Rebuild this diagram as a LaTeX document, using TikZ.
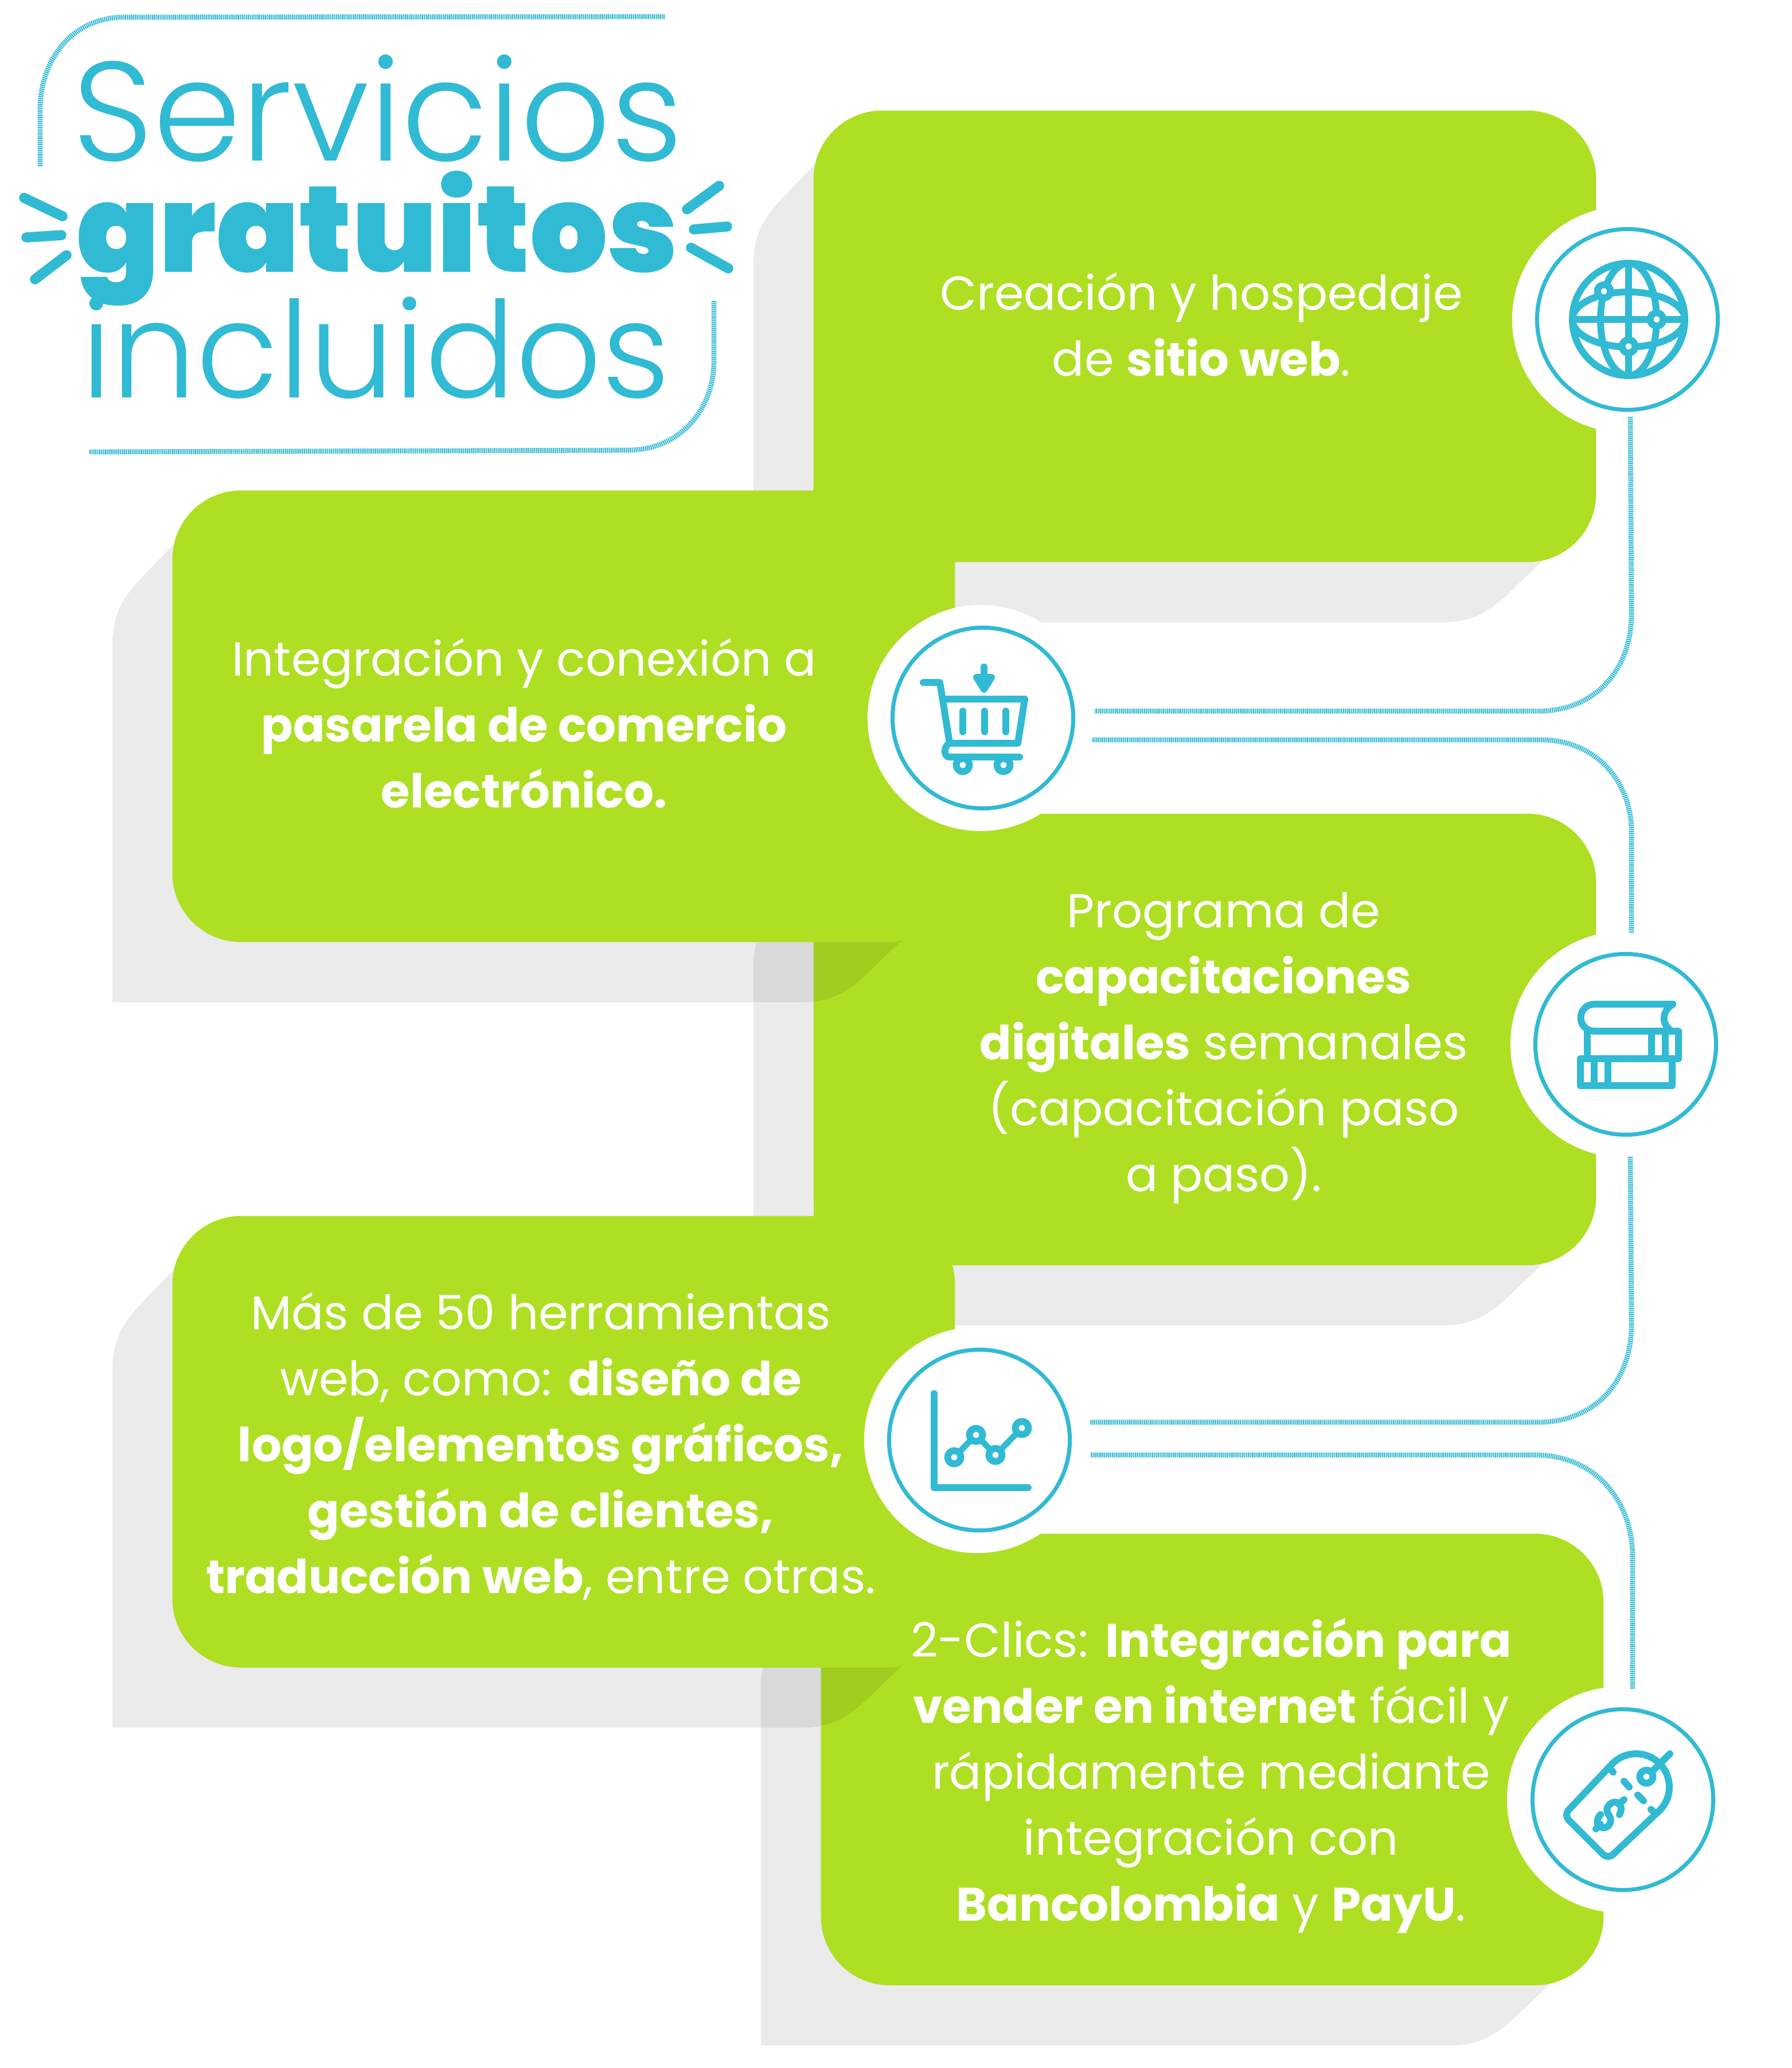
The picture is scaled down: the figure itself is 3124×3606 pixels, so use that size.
\documentclass[tikz,border=0pt]{standalone}
\usepackage{fontspec}
\setmainfont{Poppins}[BoldFont={Poppins Bold},BoldFeatures={Scale=0.985}]
\newfontfamily\titlelight{Poppins Light}
\newfontfamily\titleblack{Poppins Black}
\definecolor{cardgreen}{HTML}{AEDF23}
\definecolor{iconblue}{HTML}{31BAD3}

\newcommand{\cardshadow}[2]{
\fill [black, opacity=0.08] (#1-787,#2-126.5) -- (#1-787,#2+498.5) -- (#1+415,#2+498.5)
  .. controls (#1+467,#2+498.5) and (#1+497,#2+478.5) .. (#1+526,#2+451.5)
  -- (#1+590,#2+390.5) -- (#1-679,#2-301.5) -- (#1-740,#2-237.5)
  .. controls (#1-767,#2-208.5) and (#1-787,#2-178.5) .. cycle;
}

\tikzset{
  card/.style={fill=cardgreen, rounded corners=34pt, minimum width=13.64cm, minimum height=7.87cm, inner sep=0},
  halo/.style={circle, fill=white, minimum size=3.94cm, inner sep=0},
  ring/.style={circle, draw=iconblue, line width=2pt, fill=white, minimum size=3.15cm, inner sep=0},
  cardtext/.style={text=white, align=center, inner sep=0, font=\fontsize{23.6pt}{32.7pt}\selectfont},
  titleline/.style={text=iconblue, inner sep=0, anchor=base},
  link/.style={draw=iconblue, line width=2.5pt, dash pattern=on 0.6pt off 0.35pt},
  ray/.style={draw=iconblue, line width=5pt, line cap=round},
  icon/.style={draw=iconblue, line width=3.4pt, line cap=round, line join=round},
  dot/.style={icon, fill=white}
}

\begin{document}
\begin{tikzpicture}[x=0.01cm, y=-0.01cm]
\useasboundingbox (0,0) rectangle (3124,3606);

% cards
\cardshadow{2101}{586.5}
\node (cardweb) at (2101,586.5) [card] {};
\cardshadow{2101}{1812.5}
\node (cardbooks) at (2101,1812.5) [card] {};
\fill [cardgreen] (1419,2000) rectangle (1550,2206);
\cardshadow{2114}{3068}
\node (cardtag) at (2114,3068) [card] {};
\cardshadow{983}{1249}
\node (cardcart) at (983,1249) [card] {};
\cardshadow{983}{2514}
\node (cardchart) at (983,2514) [card] {};

\node (haloweb) at (2834,557) [halo] {};
\node (halocart) at (1710,1252) [halo] {};
\node (halobooks) at (2831,1821) [halo] {};
\node (halochart) at (1704,2511) [halo] {};
\node (halotag) at (2825,3138) [halo] {};

\node (ringweb) at (2838,557) [ring] {};
\node (ringcart) at (1714,1252) [ring] {};
\node (ringbooks) at (2835,1821) [ring] {};
\node (ringchart) at (1708,2511) [ring] {};
\node (ringtag) at (2830,3138) [ring] {};

% title
\node (servicios) at (659,281) [titleline, font=\titlelight\fontsize{70pt}{70pt}\selectfont] {Servicios};
\node (gratuitos) at (658,474) [titleline, font=\titleblack\fontsize{60.5pt}{60.5pt}\selectfont] {gratuitos};
\node (incluidos) at (655,693) [titleline, font=\titlelight\fontsize{66.5pt}{66.5pt}\selectfont] {incluidos};

\coordinate (frameA) at (1159,29);
\coordinate (frameB) at (70,291);
\coordinate (frameC) at (156,788);
\coordinate (frameD) at (1245,524);
\draw [link] (frameA) -- (214,30) .. controls (120,32) and (70,110) .. (70,190) -- (frameB);
\draw [link] (frameC) -- (1098,785) .. controls (1190,783) and (1245,710) .. (1245,630) -- (frameD);

\draw [ray] (42,345) -- (109,377);
\draw [ray] (46,414) -- (107,410);
\draw [ray] (116,445) -- (61,487);
\draw [ray] (1254,324) -- (1198,365);
\draw [ray] (1210,400) -- (1268,395);
\draw [ray] (1205,432) -- (1270,468);

% connectors
\coordinate (webdrop) at (2843,727);
\coordinate (cartin) at (1909,1240);
\coordinate (cartout) at (1905,1290);
\coordinate (booksin) at (2845,1627);
\coordinate (booksdrop) at (2843,2017);
\coordinate (chartin) at (1900,2480);
\coordinate (chartout) at (1902,2537);
\coordinate (tagin) at (2847,2945);
\draw [link] (webdrop) -- (2845,1070) .. controls (2845,1170) and (2780,1240) .. (2682,1240) -- (cartin);
\draw [link] (cartout) -- (2690,1290) .. controls (2790,1292) and (2845,1370) .. (2845,1449) -- (booksin);
\draw [link] (booksdrop) -- (2845,2310) .. controls (2845,2410) and (2780,2480) .. (2682,2480) -- (chartin);
\draw [link] (chartout) -- (2680,2537) .. controls (2785,2539) and (2847,2620) .. (2847,2714) -- (tagin);

% texts
\node (textweb) at (2095,566) [cardtext] {Creación y hospedaje\\de \textbf{sitio web}.};
\node (textcart) at (914,1261) [cardtext] {Integración y conexión a\\\textbf{pasarela de comercio}\\\textbf{electrónico.}};
\node (textbooks) at (2134,1828) [cardtext] {Programa de\\\textbf{capacitaciones}\\\textbf{digitales} semanales\\(capacitación paso\\a paso).};
\node (textchart) at (943,2522) [cardtext] {Más de 50 herramientas\\web, como: \textbf{diseño de}\\\textbf{logo/elementos gráficos,}\\\textbf{gestión de clientes,}\\\textbf{traducción web}, entre otras.};
\node (texttag) at (2112,3096) [cardtext] {2-Clics: \textbf{Integración para}\\\textbf{vender en internet} fácil y\\rápidamente mediante\\integración con\\\textbf{Bancolombia} y \textbf{PayU}.};

% globe
\draw [icon] (2840,557) circle [radius=98];
\draw [icon] (2840,557) ellipse [x radius=49, y radius=98];
\draw [icon] (2840,557) ellipse [x radius=98, y radius=48];
\draw [icon] (2840,459) -- (2840,655);
\draw [icon] (2742,557) -- (2938,557);
\draw [dot] (2797,508) circle [radius=11.5];
\draw [dot] (2889,557) circle [radius=11.5];
\draw [dot] (2840,604) circle [radius=11.5];

% cart
\draw [icon] (1716,1163) -- (1716,1196);
\draw [icon, fill=iconblue] (1703,1181) -- (1716,1202) -- (1729,1181) -- cycle;
\draw [icon] (1610,1190) -- (1639,1190) -- (1656,1296) -- (1775,1296) -- (1787,1219) -- (1644,1219);
\draw [icon] (1656,1296) .. controls (1646,1300) and (1644,1320) .. (1656,1320) -- (1778,1320);
\draw [icon] (1679,1240) -- (1679,1276);
\draw [icon] (1717,1240) -- (1717,1276);
\draw [icon] (1754,1240) -- (1754,1276);
\draw [dot] (1679,1334) circle [radius=11.5];
\draw [dot] (1750,1334) circle [radius=11.5];

% books
\draw [icon] (2917,1751) -- (2780,1751) arc [start angle=270, end angle=90, radius=23.5] -- (2927,1798) -- (2927,1846) -- (2756,1846) -- (2756,1893) -- (2916,1893) -- (2916,1846);
\draw [icon] (2917,1751) .. controls (2897,1765) and (2897,1785) .. (2915,1798);
\draw [icon] (2768,1798) -- (2768,1846);
\draw [icon] (2880,1798) -- (2880,1846);
\draw [icon] (2904,1798) -- (2904,1846);
\draw [icon] (2780,1846) -- (2780,1893);
\draw [icon] (2804,1846) -- (2804,1893);

% chart
\draw [icon] (1629,2430) -- (1629,2594) -- (1793,2594);
\draw [icon, line width=3pt] (1664,2541) -- (1702,2502) -- (1736,2537) -- (1782,2490);
\draw [dot] (1664,2541) circle [radius=11.5];
\draw [dot] (1702,2502) circle [radius=11.5];
\draw [dot] (1736,2537) circle [radius=11.5];
\draw [dot] (1782,2490) circle [radius=11.5];

% tag
\draw [icon, rounded corners=3.4pt] (2894,3157) -- (2804,3242) -- (2727,3165) -- (2812,3075);
\draw [icon] (2812,3075) arc [start angle=225, end angle=405, radius=58];
\draw [icon] (2882,3088) -- (2912,3058);
\draw [dot] (2871,3098) circle [radius=11.5];
\draw [icon] (2805,3082) -- (2813,3090);
\draw [icon] (2879,3155) -- (2887,3162);
\draw [icon] (2832,3106) -- (2841,3116);
\draw [icon] (2856,3130) -- (2866,3140);
\draw [icon] (2824,3164) .. controls (2833,3148) and (2820,3138) .. (2810,3144) .. controls (2798,3152) and (2802,3160) .. (2807,3167) .. controls (2812,3176) and (2806,3188) .. (2795,3187) .. controls (2783,3185) and (2783,3172) .. (2791,3164);
\draw [icon] (2783,3189) -- (2791,3181);
\draw [icon] (2832,3138) -- (2823,3146);
\end{tikzpicture}
\end{document}
